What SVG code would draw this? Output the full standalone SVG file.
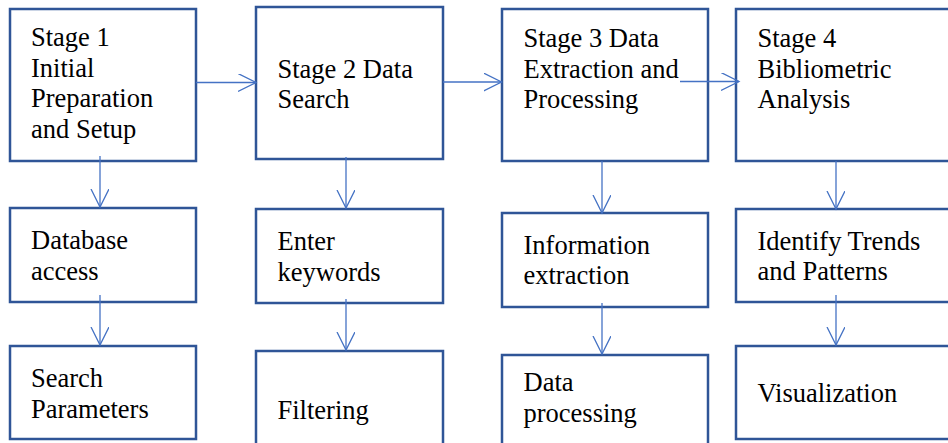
<svg xmlns="http://www.w3.org/2000/svg" width="948" height="443" viewBox="0 0 948 443">
<style>
.box{fill:#fff;stroke:#2F5597;stroke-width:2.5}
.t{font-family:'Liberation Serif',Tinos,'Times New Roman',Times,'DejaVu Serif',serif;font-size:26.5px;fill:#000}
.c{fill:none;stroke:#4472C4;stroke-width:1.3}
</style>
<defs>
<marker id="ah" markerWidth="20" markerHeight="20" refX="18" refY="9" orient="auto" markerUnits="userSpaceOnUse">
<path d="M0,0 L18,9 L0,18" fill="none" stroke="#4472C4" stroke-width="1.3"/>
</marker>
</defs>
<rect width="948" height="443" fill="#fff"/>
<g id="n1"><rect class="box" x="10" y="9" width="186" height="152"/>
<text class="t"><tspan x="31" y="46">Stage 1</tspan><tspan x="31" y="76.5">Initial</tspan><tspan x="31" y="107">Preparation</tspan><tspan x="31" y="137.5">and Setup</tspan></text></g>
<g id="n2"><rect class="box" x="256" y="7" width="187" height="152"/>
<text class="t"><tspan x="277.5" y="77.5">Stage 2 Data</tspan><tspan x="277.5" y="108">Search</tspan></text></g>
<g id="n3"><rect class="box" x="502" y="9" width="206" height="152"/>
<text class="t"><tspan x="523.5" y="46.5">Stage 3 Data</tspan><tspan x="523.5" y="77.5">Extraction and</tspan><tspan x="523.5" y="108">Processing</tspan></text></g>
<g id="n4"><rect class="box" x="736" y="9" width="220" height="152"/>
<text class="t"><tspan x="757.5" y="46.5">Stage 4</tspan><tspan x="757.5" y="77.5">Bibliometric</tspan><tspan x="757.5" y="108">Analysis</tspan></text></g>
<g id="n5"><rect class="box" x="10" y="208" width="186" height="94"/>
<text class="t"><tspan x="31" y="249">Database</tspan><tspan x="31" y="279.5">access</tspan></text></g>
<g id="n6"><rect class="box" x="256" y="209" width="187" height="94"/>
<text class="t"><tspan x="277.5" y="250">Enter</tspan><tspan x="277.5" y="280.5">keywords</tspan></text></g>
<g id="n7"><rect class="box" x="502" y="213" width="206" height="94"/>
<text class="t"><tspan x="523.5" y="253.5">Information</tspan><tspan x="523.5" y="284">extraction</tspan></text></g>
<g id="n8"><rect class="box" x="736" y="209" width="220" height="93"/>
<text class="t"><tspan x="757.5" y="249.5">Identify Trends</tspan><tspan x="757.5" y="280">and Patterns</tspan></text></g>
<g id="n9"><rect class="box" x="10" y="346" width="186" height="93"/>
<text class="t"><tspan x="31" y="387">Search</tspan><tspan x="31" y="417.5">Parameters</tspan></text></g>
<g id="n10"><rect class="box" x="256" y="351" width="187" height="100"/>
<text class="t" x="277.5" y="418.5">Filtering</text></g>
<g id="n11"><rect class="box" x="502" y="355" width="206" height="100"/>
<text class="t"><tspan x="523.5" y="391">Data</tspan><tspan x="523.5" y="422">processing</tspan></text></g>
<g id="n12"><rect class="box" x="736" y="346" width="220" height="93"/>
<text class="t" x="757.5" y="401.5">Visualization</text></g>
<g id="connectors">
<line class="c" x1="196" y1="82.5" x2="256" y2="82.5" marker-end="url(#ah)"/>
<line class="c" x1="443" y1="82" x2="501.5" y2="82" marker-end="url(#ah)"/>
<line class="c" x1="680" y1="81.5" x2="739" y2="81.5" marker-end="url(#ah)"/>
<line class="c" x1="100" y1="156" x2="100" y2="207" marker-end="url(#ah)"/>
<line class="c" x1="346" y1="157" x2="346" y2="208" marker-end="url(#ah)"/>
<line class="c" x1="602" y1="161" x2="602" y2="213" marker-end="url(#ah)"/>
<line class="c" x1="836" y1="161" x2="836" y2="209" marker-end="url(#ah)"/>
<line class="c" x1="100" y1="295" x2="100" y2="345" marker-end="url(#ah)"/>
<line class="c" x1="346" y1="299" x2="346" y2="350" marker-end="url(#ah)"/>
<line class="c" x1="602" y1="303" x2="602" y2="354" marker-end="url(#ah)"/>
<line class="c" x1="836" y1="295" x2="836" y2="345" marker-end="url(#ah)"/>
</g>
</svg>
